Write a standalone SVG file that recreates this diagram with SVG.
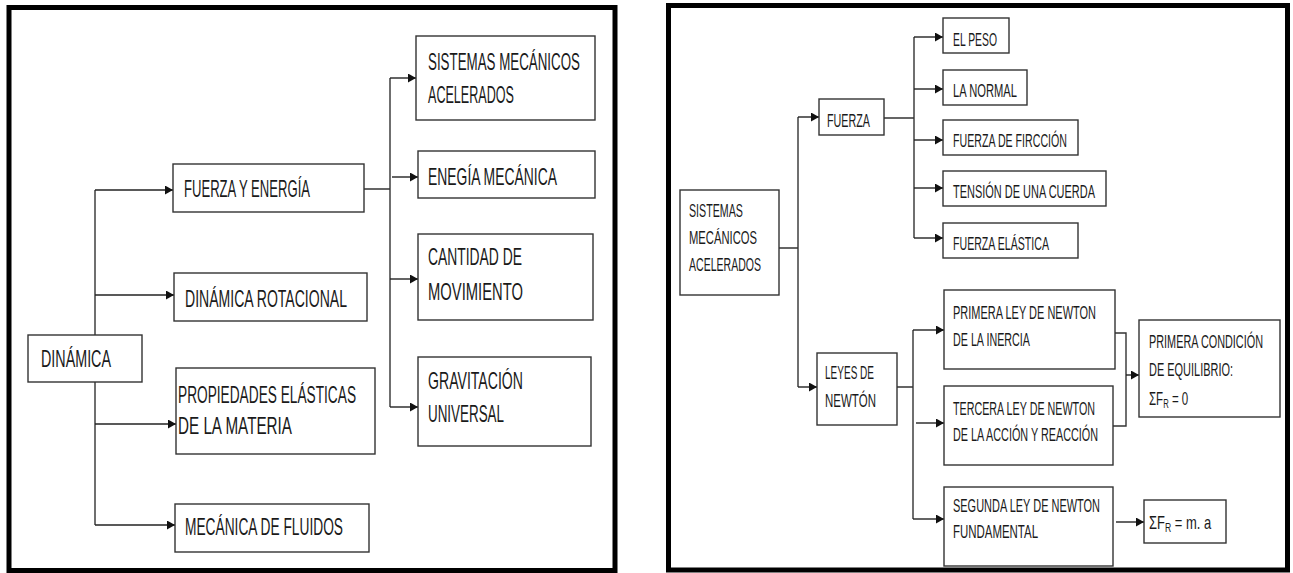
<svg xmlns="http://www.w3.org/2000/svg" width="1293" height="573" viewBox="0 0 1293 573">
  <defs>
    <marker id="arrow" markerUnits="userSpaceOnUse" markerWidth="9" markerHeight="9" refX="8" refY="4.5" orient="auto">
      <path d="M0,0 L8,4.5 L0,9 z" fill="#111"/>
    </marker>
    <style>
      .frame { fill: #fff; stroke: #000; stroke-width: 5; }
      .box { fill: #fff; stroke: #333; stroke-width: 1.4; }
      .wire { fill: none; stroke: #333; stroke-width: 1.4; }
      .arr { fill: none; stroke: #222; stroke-width: 1.4; marker-end: url(#arrow); }
      text { font-family: "Liberation Sans", Arial, sans-serif; fill: #1a1a1a; }
      .big { font-size: 23px; }
      .small { font-size: 18px; }
    </style>
  </defs>

  <rect width="1293" height="573" fill="#fff"/>

  <!-- panel frames -->
  <rect class="frame" x="9" y="7.5" width="606" height="563"/>
  <rect class="frame" x="668.5" y="5.5" width="619" height="564.5"/>

  <!-- connectors -->
  <g id="connectors">
    <!-- left panel -->
    <path class="wire" d="M95,190 V335 M95,382 V525"/>
    <path class="arr" d="M95,190 H173"/>
    <path class="arr" d="M95,295 H174"/>
    <path class="arr" d="M95,424 H176"/>
    <path class="arr" d="M95,525 H175"/>
    <path class="wire" d="M364,189 H390 M390,78 V407"/>
    <path class="arr" d="M390,78 H416"/>
    <path class="arr" d="M392,177 H418"/>
    <path class="arr" d="M390,279 H418"/>
    <path class="arr" d="M390,407 H418"/>
    <!-- right panel -->
    <path class="wire" d="M779,248 H798 M798,117 V387"/>
    <path class="arr" d="M798,117 H819"/>
    <path class="arr" d="M798,387 H817"/>
    <path class="wire" d="M884,118 H914 M914,37 V238"/>
    <path class="arr" d="M914,37 H943"/>
    <path class="arr" d="M914,89 H943"/>
    <path class="arr" d="M914,140 H943"/>
    <path class="arr" d="M914,188 H943"/>
    <path class="arr" d="M914,238 H943"/>
    <path class="wire" d="M897,387 H913 M913,330 V519"/>
    <path class="arr" d="M913,330 H944"/>
    <path class="arr" d="M916,423 H944"/>
    <path class="arr" d="M913,519 H944"/>
    <path class="wire" d="M1115,333 H1126 V426 H1113"/>
    <path class="arr" d="M1126,375 H1139"/>
    <path class="arr" d="M1116,522 H1144"/>
  </g>

  <!-- left panel nodes (labels drawn narrow: horizontal scale 0.6) -->
  <g id="dinamica">
    <rect class="box" x="28" y="335" width="114" height="47"/>
    <text class="big" transform="matrix(0.6 0 0 1 41 367)" textLength="116.7" lengthAdjust="spacingAndGlyphs">DINÁMICA</text>
  </g>
  <g id="fuerza-energia">
    <rect class="box" x="173" y="164" width="191" height="48"/>
    <text class="big" transform="matrix(0.6 0 0 1 184 197)" textLength="210" lengthAdjust="spacingAndGlyphs">FUERZA Y ENERGÍA</text>
  </g>
  <g id="dinamica-rotacional">
    <rect class="box" x="174" y="273" width="193" height="48"/>
    <text class="big" transform="matrix(0.6 0 0 1 185 307)" textLength="270" lengthAdjust="spacingAndGlyphs">DINÁMICA ROTACIONAL</text>
  </g>
  <g id="propiedades-elasticas">
    <rect class="box" x="176" y="368" width="199" height="86"/>
    <text class="big" transform="matrix(0.6 0 0 1 178 403)" textLength="296.7" lengthAdjust="spacingAndGlyphs">PROPIEDADES ELÁSTICAS</text>
    <text class="big" transform="matrix(0.6 0 0 1 178 434)" textLength="190" lengthAdjust="spacingAndGlyphs">DE LA MATERIA</text>
  </g>
  <g id="mecanica-fluidos">
    <rect class="box" x="175" y="504" width="194" height="48"/>
    <text class="big" transform="matrix(0.6 0 0 1 185 535)" textLength="263.3" lengthAdjust="spacingAndGlyphs">MECÁNICA DE FLUIDOS</text>
  </g>
  <g id="sistemas-mecanicos-l">
    <rect class="box" x="416" y="36" width="179" height="84"/>
    <text class="big" transform="matrix(0.6 0 0 1 428 69.5)" textLength="253.3" lengthAdjust="spacingAndGlyphs">SISTEMAS MECÁNICOS</text>
    <text class="big" transform="matrix(0.6 0 0 1 428 103)" textLength="143.3" lengthAdjust="spacingAndGlyphs">ACELERADOS</text>
  </g>
  <g id="energia-mecanica">
    <rect class="box" x="418" y="151" width="177" height="47"/>
    <text class="big" transform="matrix(0.6 0 0 1 428 184.5)" textLength="215" lengthAdjust="spacingAndGlyphs">ENEGÍA MECÁNICA</text>
  </g>
  <g id="cantidad-movimiento">
    <rect class="box" x="418" y="234" width="175" height="86"/>
    <text class="big" transform="matrix(0.6 0 0 1 428 265)" textLength="156.7" lengthAdjust="spacingAndGlyphs">CANTIDAD DE</text>
    <text class="big" transform="matrix(0.6 0 0 1 428 300)" textLength="158.3" lengthAdjust="spacingAndGlyphs">MOVIMIENTO</text>
  </g>
  <g id="gravitacion">
    <rect class="box" x="418" y="357" width="173" height="89"/>
    <text class="big" transform="matrix(0.6 0 0 1 428 389)" textLength="158.3" lengthAdjust="spacingAndGlyphs">GRAVITACIÓN</text>
    <text class="big" transform="matrix(0.6 0 0 1 428 422)" textLength="126.7" lengthAdjust="spacingAndGlyphs">UNIVERSAL</text>
  </g>

  <!-- right panel nodes -->
  <g id="sistemas-mecanicos-r">
    <rect class="box" x="680" y="190" width="99" height="105"/>
    <text class="small" transform="matrix(0.6 0 0 1 689 217)" textLength="90" lengthAdjust="spacingAndGlyphs">SISTEMAS</text>
    <text class="small" transform="matrix(0.6 0 0 1 689 244)" textLength="113.3" lengthAdjust="spacingAndGlyphs">MECÁNICOS</text>
    <text class="small" transform="matrix(0.6 0 0 1 689 271)" textLength="120" lengthAdjust="spacingAndGlyphs">ACELERADOS</text>
  </g>
  <g id="fuerza">
    <rect class="box" x="819" y="99" width="65" height="36"/>
    <text class="small" transform="matrix(0.6 0 0 1 827 126.5)" textLength="71.7" lengthAdjust="spacingAndGlyphs">FUERZA</text>
  </g>
  <g id="el-peso">
    <rect class="box" x="943" y="18" width="66" height="35"/>
    <text class="small" transform="matrix(0.6 0 0 1 953 46)" textLength="73.3" lengthAdjust="spacingAndGlyphs">EL PESO</text>
  </g>
  <g id="la-normal">
    <rect class="box" x="943" y="70" width="84" height="35"/>
    <text class="small" transform="matrix(0.6 0 0 1 953 97)" textLength="106.7" lengthAdjust="spacingAndGlyphs">LA NORMAL</text>
  </g>
  <g id="friccion">
    <rect class="box" x="943" y="120" width="135" height="35"/>
    <text class="small" transform="matrix(0.6 0 0 1 953 147)" textLength="190" lengthAdjust="spacingAndGlyphs">FUERZA DE FIRCCIÓN</text>
  </g>
  <g id="tension">
    <rect class="box" x="943" y="171" width="163" height="35"/>
    <text class="small" transform="matrix(0.6 0 0 1 953 198)" textLength="236.7" lengthAdjust="spacingAndGlyphs">TENSIÓN DE UNA CUERDA</text>
  </g>
  <g id="elastica">
    <rect class="box" x="943" y="223" width="135" height="35"/>
    <text class="small" transform="matrix(0.6 0 0 1 953 250)" textLength="160" lengthAdjust="spacingAndGlyphs">FUERZA ELÁSTICA</text>
  </g>
  <g id="leyes-newton">
    <rect class="box" x="817" y="353" width="80" height="72"/>
    <text class="small" transform="matrix(0.6 0 0 1 825 379)" textLength="81.7" lengthAdjust="spacingAndGlyphs">LEYES DE</text>
    <text class="small" transform="matrix(0.6 0 0 1 825 406.5)" textLength="85" lengthAdjust="spacingAndGlyphs">NEWTÓN</text>
  </g>
  <g id="primera-ley">
    <rect class="box" x="944" y="290" width="171" height="79"/>
    <text class="small" transform="matrix(0.6 0 0 1 953 319)" textLength="238.3" lengthAdjust="spacingAndGlyphs">PRIMERA LEY DE NEWTON</text>
    <text class="small" transform="matrix(0.6 0 0 1 953 345.5)" textLength="128.3" lengthAdjust="spacingAndGlyphs">DE LA INERCIA</text>
  </g>
  <g id="tercera-ley">
    <rect class="box" x="944" y="386" width="169" height="79"/>
    <text class="small" transform="matrix(0.6 0 0 1 953 415)" textLength="236.7" lengthAdjust="spacingAndGlyphs">TERCERA LEY DE NEWTON</text>
    <text class="small" transform="matrix(0.6 0 0 1 953 440.5)" textLength="241.7" lengthAdjust="spacingAndGlyphs">DE LA ACCIÓN Y REACCIÓN</text>
  </g>
  <g id="segunda-ley">
    <rect class="box" x="944" y="487" width="169" height="79"/>
    <text class="small" transform="matrix(0.6 0 0 1 953 511.5)" textLength="245" lengthAdjust="spacingAndGlyphs">SEGUNDA LEY DE NEWTON</text>
    <text class="small" transform="matrix(0.6 0 0 1 953 538)" textLength="141.7" lengthAdjust="spacingAndGlyphs">FUNDAMENTAL</text>
  </g>
  <g id="condicion-equilibrio">
    <rect class="box" x="1139" y="320" width="141" height="97"/>
    <text class="small" transform="matrix(0.6 0 0 1 1149 348)" textLength="190" lengthAdjust="spacingAndGlyphs">PRIMERA CONDICIÓN</text>
    <text class="small" transform="matrix(0.6 0 0 1 1149 376)" textLength="140" lengthAdjust="spacingAndGlyphs">DE EQUILIBRIO:</text>
    <text class="small" transform="matrix(0.64 0 0 1 1149 405)">ΣF<tspan font-size="12" dy="3">R</tspan><tspan dy="-3"> = 0</tspan></text>
  </g>
  <g id="segunda-formula">
    <rect class="box" x="1144" y="500" width="82" height="43"/>
    <text class="small" transform="matrix(0.72 0 0 1 1149 529)">ΣF<tspan font-size="12" dy="3">R</tspan><tspan dy="-3"> = m. a</tspan></text>
  </g>
</svg>
